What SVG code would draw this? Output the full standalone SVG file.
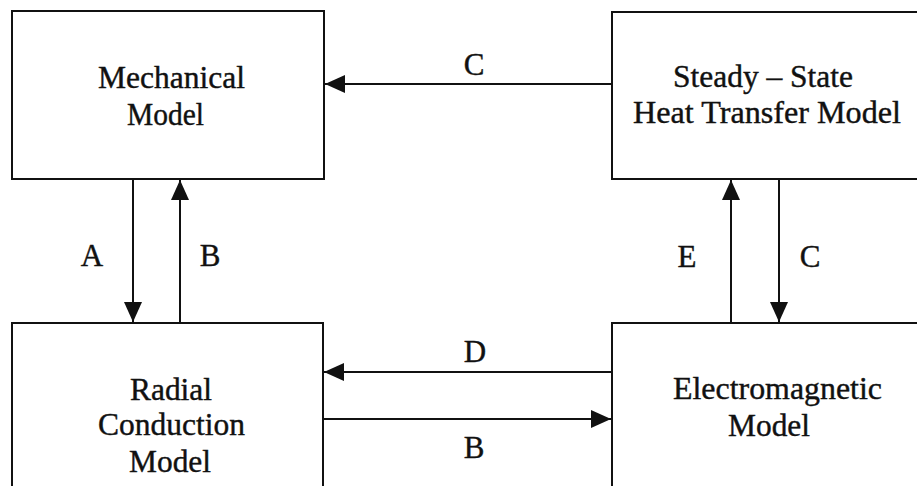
<svg xmlns="http://www.w3.org/2000/svg" width="917" height="486" viewBox="0 0 917 486">
<style>
.box{fill:#fff;stroke:#111;stroke-width:2}
.ln{stroke:#111;stroke-width:2;fill:none}
text{font-family:"Liberation Serif","Times New Roman",serif;font-size:31px;fill:#111;stroke:#111;stroke-width:0.4}
.c{text-anchor:middle}
</style>
<defs>
<marker id="ah" markerUnits="userSpaceOnUse" markerWidth="20" markerHeight="18" refX="20" refY="9" orient="auto">
<path d="M0,0 L20,9 L0,18 z" fill="#111"/>
</marker>
</defs>
<rect width="917" height="486" fill="#fff"/>
<g id="mechanical">
<rect class="box" x="12" y="11" width="312" height="168"/>
<text x="98" y="88" textLength="147" lengthAdjust="spacingAndGlyphs">Mechanical</text>
<text x="127" y="125" textLength="77" lengthAdjust="spacingAndGlyphs">Model</text>
</g>
<g id="heat">
<rect class="box" x="612" y="12" width="320" height="167"/>
<text x="673" y="87" textLength="180" lengthAdjust="spacingAndGlyphs">Steady – State</text>
<text x="633" y="123" textLength="268" lengthAdjust="spacingAndGlyphs">Heat Transfer Model</text>
</g>
<g id="radial">
<rect class="box" x="12" y="323" width="311" height="200"/>
<text x="130" y="400" textLength="82" lengthAdjust="spacingAndGlyphs">Radial</text>
<text x="98" y="435" textLength="147" lengthAdjust="spacingAndGlyphs">Conduction</text>
<text x="129" y="472" textLength="82" lengthAdjust="spacingAndGlyphs">Model</text>
</g>
<g id="electromagnetic">
<rect class="box" x="612" y="323" width="320" height="200"/>
<text x="673" y="399" textLength="209" lengthAdjust="spacingAndGlyphs">Electromagnetic</text>
<text x="728" y="436" textLength="82" lengthAdjust="spacingAndGlyphs">Model</text>
</g>
<g id="connectors">
<line class="ln" x1="612" y1="84" x2="325" y2="84" marker-end="url(#ah)"/>
<line class="ln" x1="133" y1="179" x2="133" y2="322" marker-end="url(#ah)"/>
<line class="ln" x1="180" y1="323" x2="180" y2="180" marker-end="url(#ah)"/>
<line class="ln" x1="731" y1="323" x2="731" y2="180" marker-end="url(#ah)"/>
<line class="ln" x1="779" y1="179" x2="779" y2="322" marker-end="url(#ah)"/>
<line class="ln" x1="612" y1="372" x2="324" y2="372" marker-end="url(#ah)"/>
<line class="ln" x1="323" y1="419" x2="611" y2="419" marker-end="url(#ah)"/>
<text class="c" x="474" y="75">C</text>
<text class="c" x="92" y="266">A</text>
<text class="c" x="210" y="266">B</text>
<text class="c" x="687" y="267">E</text>
<text class="c" x="810" y="267">C</text>
<text class="c" x="475" y="362">D</text>
<text class="c" x="474" y="458">B</text>
</g>
</svg>
